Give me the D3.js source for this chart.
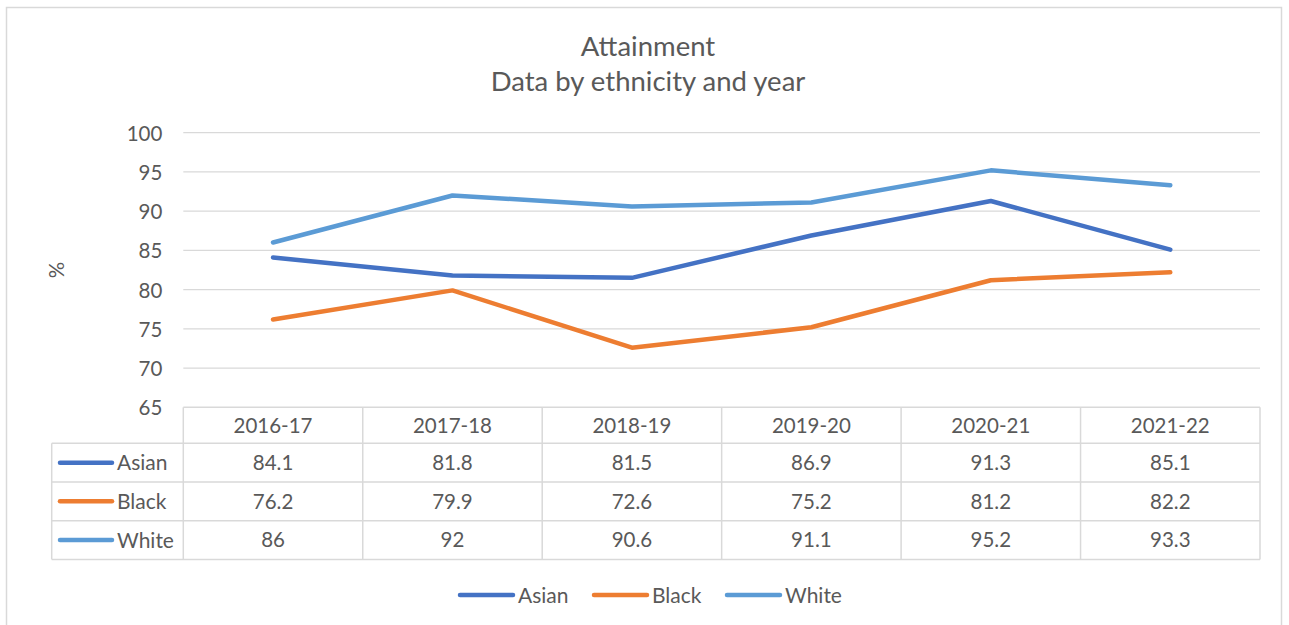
<!DOCTYPE html>
<html>
<head>
<meta charset="utf-8">
<script src="https://cdn.jsdelivr.net/npm/d3@7/dist/d3.min.js"></script>
<style>
  html, body { margin: 0; padding: 0; background: #fff; }
  svg { display: block; }
  text { font-family: Lato, "Open Sans", sans-serif; fill: #595959; }
</style>
</head>
<body>
<svg id="chart" width="1289" height="625"></svg>
<script>
// Attainment (%) by ethnicity and academic year
const years = ["2016-17", "2017-18", "2018-19", "2019-20", "2020-21", "2021-22"];
const seriesNames = ["Asian", "Black", "White"];
const asian = [84.1, 81.8, 81.5, 86.9, 91.3, 85.1];
const black = [76.2, 79.9, 72.6, 75.2, 81.2, 82.2];
const white = [86, 92, 90.6, 91.1, 95.2, 93.3];
const yTicks = [65, 70, 75, 80, 85, 90, 95, 100];
const colors = ["#4472C4", "#ED7D31", "#5B9BD5"];

const series = seriesNames.map((name, i) => ({
  name,
  values: [asian, black, white][i],
  color: colors[i]
}));

const svg = d3.select("#chart");
const gridColor = "#d9d9d9";

// chart frame
svg.append("rect")
  .attr("x", 6.5).attr("y", 7.5)
  .attr("width", 1275).attr("height", 640)
  .attr("fill", "none").attr("stroke", gridColor).attr("stroke-width", 1.5);

// title
svg.append("text").attr("x", 648).attr("y", 56)
  .attr("text-anchor", "middle").style("font-size", "27.5px").text("Attainment");
svg.append("text").attr("x", 648).attr("y", 91)
  .attr("text-anchor", "middle").style("font-size", "27.5px").text("Data by ethnicity and year");

const plotLeft = 183.3, plotRight = 1260, plotTop = 132.7, plotBottom = 407.3;

const x = d3.scaleBand().domain(years).range([plotLeft, plotRight]);
const y = d3.scaleLinear().domain([65, 100]).range([plotBottom, plotTop]);

// horizontal gridlines
svg.append("g").selectAll("line").data(yTicks.filter(t => t > 65)).join("line")
  .attr("x1", plotLeft).attr("x2", plotRight)
  .attr("y1", d => y(d)).attr("y2", d => y(d))
  .attr("stroke", gridColor).attr("stroke-width", 1.3);

// y-axis tick labels
const yAxis = d3.axisLeft(y).tickValues(yTicks).tickSize(0).tickPadding(0);
const yg = svg.append("g").attr("transform", `translate(${plotLeft - 21},0)`).call(yAxis);
yg.select(".domain").remove();
yg.selectAll("text").style("font-size", "20.5px").style("font-family", "Lato, sans-serif")
  .attr("fill", "#595959").attr("dy", "0.36em");

// y-axis title
svg.append("text")
  .attr("transform", "translate(64,270) rotate(-90)")
  .attr("text-anchor", "middle").style("font-size", "20.5px").text("%");

// lines
const line = d3.line()
  .x((d, i) => x(years[i]) + x.bandwidth() / 2)
  .y(d => y(d));

svg.append("g").selectAll("path").data(series).join("path")
  .attr("d", d => line(d.values))
  .attr("fill", "none")
  .attr("stroke", d => d.color)
  .attr("stroke-width", 4.5)
  .attr("stroke-linecap", "round")
  .attr("stroke-linejoin", "round");

// data table below the plot
const tableLeft = 51.7;
const headerBottom = 443.3;
const rowH = 38.7;
const rowY = d3.scaleBand().domain(seriesNames)
  .range([headerBottom, headerBottom + rowH * seriesNames.length]);
const tableBottom = headerBottom + rowH * seriesNames.length;

const table = svg.append("g");
function hline(x1, x2, yy) {
  table.append("line").attr("x1", x1).attr("x2", x2).attr("y1", yy).attr("y2", yy)
    .attr("stroke", gridColor).attr("stroke-width", 1.5);
}
function vline(xx, y1, y2) {
  table.append("line").attr("x1", xx).attr("x2", xx).attr("y1", y1).attr("y2", y2)
    .attr("stroke", gridColor).attr("stroke-width", 1.5);
}
hline(plotLeft, plotRight, plotBottom);
hline(tableLeft, plotRight, headerBottom);
seriesNames.forEach(n => hline(tableLeft, plotRight, rowY(n) + rowY.bandwidth()));
vline(tableLeft, headerBottom, tableBottom);
years.forEach(yr => vline(x(yr), plotBottom, tableBottom));
vline(plotRight, plotBottom, tableBottom);

// header labels
table.append("g").selectAll("text").data(years).join("text")
  .attr("x", d => x(d) + x.bandwidth() / 2)
  .attr("y", (plotBottom + headerBottom) / 2)
  .attr("dy", "0.36em")
  .attr("text-anchor", "middle").style("font-size", "20.5px")
  .text(d => d);

// row keys and values
series.forEach(s => {
  const cy = rowY(s.name) + rowY.bandwidth() / 2;
  table.append("line")
    .attr("x1", 60).attr("x2", 112).attr("y1", cy).attr("y2", cy)
    .attr("stroke", s.color).attr("stroke-width", 4.5).attr("stroke-linecap", "round");
  table.append("text").attr("x", 117).attr("y", cy).attr("dy", "0.36em")
    .style("font-size", "21px").text(s.name);
  table.append("g").selectAll("text").data(s.values).join("text")
    .attr("x", (d, i) => x(years[i]) + x.bandwidth() / 2)
    .attr("y", cy).attr("dy", "0.36em")
    .attr("text-anchor", "middle").style("font-size", "20.5px")
    .text(d => d);
});

// legend
const legendY = 595;
const legendX = [460, 594, 727];
const legend = svg.append("g");
series.forEach((s, i) => {
  legend.append("line")
    .attr("x1", legendX[i]).attr("x2", legendX[i] + 53)
    .attr("y1", legendY).attr("y2", legendY)
    .attr("stroke", s.color).attr("stroke-width", 4.5).attr("stroke-linecap", "round");
  legend.append("text")
    .attr("x", legendX[i] + 58).attr("y", legendY).attr("dy", "0.36em")
    .style("font-size", "21px").text(s.name);
});
</script>
</body>
</html>
